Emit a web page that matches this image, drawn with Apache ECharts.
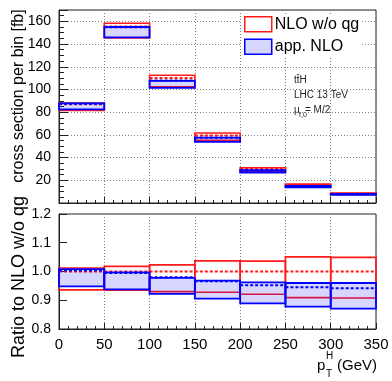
<!DOCTYPE html>
<html>
<head>
<meta charset="utf-8">
<script src="https://cdn.jsdelivr.net/npm/echarts@6/dist/echarts.min.js"></script>
<style>
  html, body { margin: 0; padding: 0; background: #fff; }
  #chart { width: 392px; height: 381px; }
</style>
</head>
<body>
<div id="chart"></div>
<script>
// bin edges in pT^H (GeV)
const edges = [0, 50, 100, 150, 200, 250, 300, 350];
// NLO w/o qg central value per bin [fb]
const nloCentral = [87, 155.5, 110, 59.5, 30, 15.8, 8.3];
// scale band of NLO w/o qg, as ratio to its central value
const nloLo = [0.936, 0.935, 0.930, 0.928, 0.921, 0.909, 0.908];
const nloHi = [1.012, 1.018, 1.023, 1.037, 1.036, 1.051, 1.049];
// app. NLO, as ratio to NLO w/o qg central value
const appMid = [1.004, 0.995, 0.980, 0.966, 0.952, 0.945, 0.942];
const appLo = [0.948, 0.938, 0.922, 0.906, 0.889, 0.878, 0.871];
const appHi = [1.008, 0.997, 0.978, 0.968, 0.962, 0.960, 0.960];

const xTicks = [0, 50, 100, 150, 200, 250, 300, 350];

const RED = '#ff1a1a';
const BLUE = '#0000ff';
const FILL = 'rgba(0,0,255,0.16)';
const FONT = 'Liberation Sans';

// build [x0, x1, lo, hi] rows
const topRed = [], topRedMid = [], topBlue = [], topBlueMid = [];
const ratRed = [], ratRedMid = [], ratBlue = [], ratBlueMid = [];
for (let i = 0; i < nloCentral.length; i++) {
  const x0 = edges[i], x1 = edges[i + 1], c = nloCentral[i];
  topRed.push([x0, x1, c * nloLo[i], c * nloHi[i]]);
  topRedMid.push([x0, x1, c, c]);
  topBlue.push([x0, x1, c * appLo[i], c * appHi[i]]);
  topBlueMid.push([x0, x1, c * appMid[i], c * appMid[i]]);
  ratRed.push([x0, x1, nloLo[i], nloHi[i]]);
  ratRedMid.push([x0, x1, 1, 1]);
  ratBlue.push([x0, x1, appLo[i], appHi[i]]);
  ratBlueMid.push([x0, x1, appMid[i], appMid[i]]);
}

function boxSeries(name, data, gi, style) {
  return {
    type: 'custom', name: name, xAxisIndex: gi, yAxisIndex: gi,
    data: data, encode: { x: [0, 1], y: [2, 3] }, silent: true,
    renderItem: function (params, api) {
      const p0 = api.coord([api.value(0), api.value(3)]);
      const p1 = api.coord([api.value(1), api.value(2)]);
      return {
        type: 'rect',
        shape: { x: p0[0], y: p0[1], width: p1[0] - p0[0], height: p1[1] - p0[1] },
        style: style
      };
    }
  };
}

function midSeries(name, data, gi, color, dash) {
  return {
    type: 'custom', name: name, xAxisIndex: gi, yAxisIndex: gi,
    data: data, encode: { x: [0, 1], y: [2, 3] }, silent: true,
    renderItem: function (params, api) {
      const p0 = api.coord([api.value(0), api.value(2)]);
      const p1 = api.coord([api.value(1), api.value(2)]);
      return {
        type: 'line',
        shape: { x1: p0[0], y1: p0[1], x2: p1[0], y2: p1[1] },
        style: { stroke: color, lineWidth: 2, lineDash: dash }
      };
    }
  };
}

const redBox = { fill: 'none', stroke: RED, lineWidth: 1.6 };
const blueBox = { fill: FILL, stroke: BLUE, lineWidth: 1.8 };
const gridLine = { show: true, lineStyle: { color: '#808080', type: [1, 2], width: 1 } };
const axLine = { show: true, lineStyle: { color: '#222', width: 1 } };

const chart = echarts.init(document.getElementById('chart'));

chart.setOption({
  animation: false,
  textStyle: { fontFamily: FONT },
  grid: [
    { left: 59, right: 16, top: 10, height: 193, show: true, borderColor: '#222', borderWidth: 1 },
    { left: 59, right: 16, top: 214, height: 115, show: true, borderColor: '#222', borderWidth: 1 }
  ],
  xAxis: [
    {
      type: 'value', gridIndex: 0, min: xTicks[0], max: xTicks[xTicks.length - 1], interval: 50,
      axisLine: axLine, axisLabel: { show: false },
      axisTick: { inside: true, length: 6, lineStyle: { color: '#222' } },
      minorTick: { show: true, splitNumber: 5, length: 3, lineStyle: { color: '#222' } },
      splitLine: gridLine
    },
    {
      type: 'value', gridIndex: 1, min: xTicks[0], max: xTicks[xTicks.length - 1], interval: 50,
      axisLine: axLine,
      axisLabel: { fontSize: 15, color: '#000', margin: 8, fontFamily: FONT },
      axisTick: { inside: true, length: 6, lineStyle: { color: '#222' } },
      minorTick: { show: true, splitNumber: 5, length: 3, lineStyle: { color: '#222' } },
      splitLine: gridLine
    }
  ],
  yAxis: [
    {
      type: 'value', gridIndex: 0, min: 0, max: 170, interval: 20,
      axisLine: axLine,
      axisLabel: {
        fontSize: 14, color: '#000', margin: 8, fontFamily: FONT,
        formatter: function (v) { return (v > 0 && v % 20 === 0) ? String(v) : ''; }
      },
      axisTick: { inside: true, length: 9, lineStyle: { color: '#222' } },
      minorTick: { show: true, splitNumber: 4, length: 5, lineStyle: { color: '#222' } },
      splitLine: gridLine
    },
    {
      type: 'value', gridIndex: 1, min: 0.8, max: 1.2, interval: 0.1,
      axisLine: axLine,
      axisLabel: {
        fontSize: 14, color: '#000', margin: 8, fontFamily: FONT,
        formatter: function (v) { return v.toFixed(1); }
      },
      axisTick: { inside: true, length: 8, lineStyle: { color: '#222' } },
      splitLine: { show: false }
    }
  ],
  legend: {
    left: 242, top: 15, orient: 'vertical',
    itemWidth: 27, itemHeight: 15, itemGap: 6, padding: [1, 3, 1, 2],
    backgroundColor: '#fff', selectedMode: false,
    textStyle: { fontSize: 16, color: '#000', fontFamily: FONT, lineHeight: 16, padding: [0, 0, 0, -2] },
    data: [
      { name: 'NLO w/o qg', icon: 'rect', itemStyle: { color: '#fff', borderColor: RED, borderWidth: 1.5 } },
      { name: 'app. NLO', icon: 'rect', itemStyle: { color: FILL, borderColor: BLUE, borderWidth: 1.5 } }
    ]
  },
  graphic: [
    { type: 'text', x: 19, y: 96, rotation: Math.PI / 2,
      style: { text: 'cross section per bin [fb]', fontSize: 16, fontFamily: FONT, fill: '#000', align: 'center', verticalAlign: 'middle' } },
    { type: 'text', x: 19, y: 277, rotation: Math.PI / 2,
      style: { text: 'Ratio to NLO w/o qg', fontSize: 18, fontFamily: FONT, fill: '#000', align: 'center', verticalAlign: 'middle' } },
    { type: 'text', x: 294, y: 80,
      style: { text: 'tt\u0304H', fontSize: 10, fontFamily: FONT, fill: '#222', verticalAlign: 'middle' } },
    { type: 'text', x: 294, y: 95,
      style: { text: 'LHC 13 TeV', fontSize: 10, fontFamily: FONT, fill: '#222', verticalAlign: 'middle' } },
    { type: 'text', x: 294, y: 110,
      style: { text: '\u03bc', fontSize: 10, fontFamily: FONT, fill: '#222', verticalAlign: 'middle' } },
    { type: 'text', x: 299, y: 115,
      style: { text: 'f,0', fontSize: 7, fontFamily: FONT, fill: '#222', verticalAlign: 'middle' } },
    { type: 'text', x: 305, y: 110,
      style: { text: '= M/2', fontSize: 10, fontFamily: FONT, fill: '#222', verticalAlign: 'middle' } },
    { type: 'text', x: 317, y: 366,
      style: { text: 'p', fontSize: 15, fontFamily: FONT, fill: '#000', verticalAlign: 'middle' } },
    { type: 'text', x: 326, y: 356,
      style: { text: 'H', fontSize: 10, fontFamily: FONT, fill: '#000', verticalAlign: 'middle' } },
    { type: 'text', x: 326, y: 374,
      style: { text: 'T', fontSize: 10, fontFamily: FONT, fill: '#000', verticalAlign: 'middle' } },
    { type: 'text', x: 377, y: 366,
      style: { text: '(GeV)', fontSize: 15, fontFamily: FONT, fill: '#000', align: 'right', verticalAlign: 'middle' } }
  ],
  series: [
    boxSeries('NLO w/o qg', topRed, 0, redBox),
    midSeries('NLO w/o qg', topRedMid, 0, RED, [3, 2]),
    boxSeries('app. NLO', topBlue, 0, blueBox),
    midSeries('app. NLO', topBlueMid, 0, BLUE, [3, 2]),
    boxSeries('NLO w/o qg', ratRed, 1, redBox),
    midSeries('NLO w/o qg', ratRedMid, 1, RED, [3, 2]),
    boxSeries('app. NLO', ratBlue, 1, blueBox),
    midSeries('app. NLO', ratBlueMid, 1, BLUE, [3, 2])
  ]
});
</script>
</body>
</html>
